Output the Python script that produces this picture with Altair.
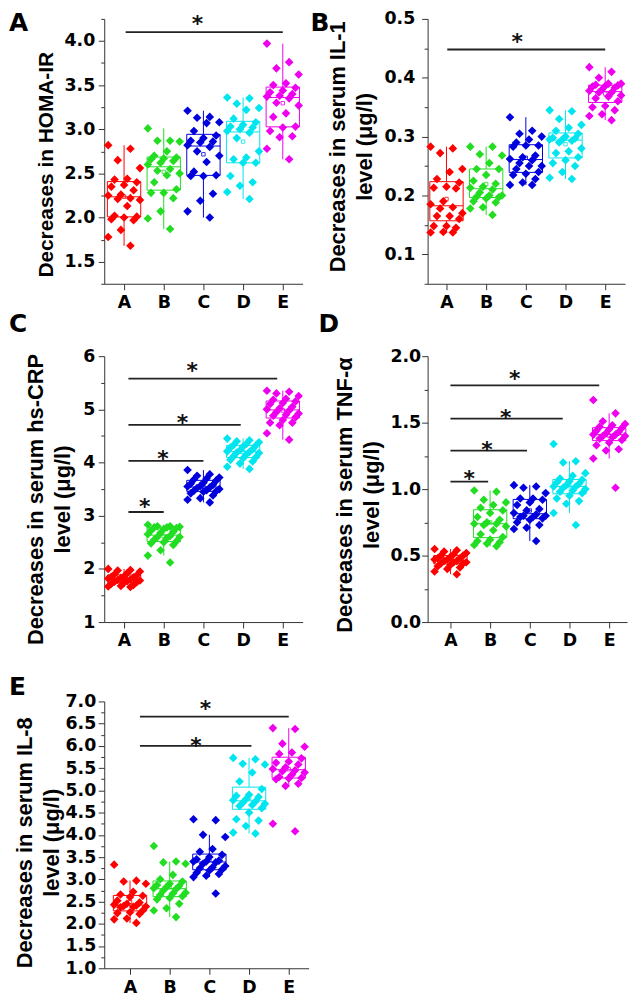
import json
import altair as alt
import pandas as pd

TFONT = "Liberation Sans"
LFONT = "DejaVu Sans"
CATS = ["A", "B", "C", "D", "E"]
COLORS = ["#ff0000", "#22dd22", "#0000dd", "#00e5ee", "#ee00ee"]
AXC = "#333333"

# ---- Panel A: HOMA-IR ----
HOMA_A = [2.82, 2.78, 2.65, 2.56, 2.44, 2.43, 2.40, 2.37, 2.35, 2.31, 2.26, 2.25, 2.22, 2.21, 2.20, 2.13, 2.02, 2.01, 2.00, 1.98, 1.97, 1.86, 1.78, 1.68]
HOMA_B = [3.01, 2.87, 2.87, 2.86, 2.75, 2.70, 2.68, 2.67, 2.66, 2.64, 2.62, 2.60, 2.55, 2.53, 2.50, 2.48, 2.40, 2.32, 2.28, 2.28, 2.22, 2.07, 1.99, 1.87]
HOMA_C = [3.21, 3.14, 3.13, 3.08, 3.07, 2.98, 2.93, 2.90, 2.87, 2.86, 2.85, 2.82, 2.80, 2.75, 2.70, 2.63, 2.52, 2.48, 2.47, 2.47, 2.27, 2.19, 2.07, 2.00]
HOMA_D = [3.36, 3.35, 3.29, 3.24, 3.22, 3.12, 3.08, 3.05, 3.03, 3.02, 3.00, 2.98, 2.96, 2.90, 2.75, 2.68, 2.66, 2.62, 2.62, 2.47, 2.40, 2.36, 2.29, 2.21]
HOMA_E = [3.97, 3.76, 3.69, 3.62, 3.52, 3.50, 3.47, 3.44, 3.42, 3.40, 3.38, 3.37, 3.35, 3.30, 3.27, 3.18, 3.14, 3.03, 3.02, 2.98, 2.92, 2.91, 2.78, 2.66]

# ---- Panel B: IL-1 ----
IL1_A = [0.283, 0.280, 0.272, 0.245, 0.240, 0.228, 0.222, 0.215, 0.213, 0.212, 0.190, 0.185, 0.180, 0.178, 0.170, 0.165, 0.165, 0.160, 0.148, 0.148, 0.145, 0.138, 0.137, 0.137]
IL1_B = [0.283, 0.283, 0.270, 0.268, 0.255, 0.245, 0.245, 0.235, 0.225, 0.220, 0.215, 0.213, 0.210, 0.205, 0.200, 0.200, 0.198, 0.197, 0.195, 0.190, 0.188, 0.180, 0.178, 0.167]
IL1_C = [0.333, 0.310, 0.305, 0.300, 0.295, 0.290, 0.285, 0.285, 0.283, 0.268, 0.265, 0.262, 0.260, 0.255, 0.250, 0.250, 0.245, 0.240, 0.237, 0.235, 0.228, 0.222, 0.218, 0.218]
IL1_D = [0.345, 0.343, 0.330, 0.320, 0.315, 0.310, 0.305, 0.300, 0.298, 0.297, 0.295, 0.295, 0.293, 0.290, 0.280, 0.275, 0.272, 0.265, 0.260, 0.255, 0.250, 0.240, 0.230, 0.228]
IL1_E = [0.418, 0.410, 0.400, 0.390, 0.390, 0.388, 0.387, 0.386, 0.385, 0.383, 0.380, 0.378, 0.375, 0.375, 0.370, 0.368, 0.365, 0.360, 0.352, 0.350, 0.345, 0.338, 0.335, 0.328]

# ---- Panel C: hs-CRP ----
CRP_A = [2.00, 1.98, 1.97, 1.95, 1.92, 1.90, 1.88, 1.86, 1.85, 1.84, 1.83, 1.82, 1.80, 1.79, 1.78, 1.77, 1.76, 1.75, 1.74, 1.72, 1.70, 1.68, 1.67, 1.66]
CRP_B = [2.83, 2.80, 2.80, 2.79, 2.78, 2.78, 2.77, 2.75, 2.72, 2.70, 2.68, 2.65, 2.62, 2.60, 2.60, 2.58, 2.55, 2.52, 2.50, 2.48, 2.45, 2.35, 2.25, 2.12]
CRP_C = [3.86, 3.78, 3.75, 3.72, 3.70, 3.68, 3.66, 3.62, 3.60, 3.58, 3.56, 3.55, 3.53, 3.52, 3.50, 3.48, 3.47, 3.46, 3.45, 3.42, 3.38, 3.33, 3.30, 3.25]
CRP_D = [4.45, 4.42, 4.40, 4.38, 4.35, 4.33, 4.32, 4.30, 4.28, 4.25, 4.23, 4.21, 4.20, 4.19, 4.18, 4.15, 4.12, 4.10, 4.08, 4.05, 4.02, 3.98, 3.92, 3.88]
CRP_E = [5.35, 5.33, 5.30, 5.25, 5.20, 5.18, 5.15, 5.12, 5.10, 5.05, 5.02, 5.00, 4.98, 4.95, 4.92, 4.90, 4.88, 4.85, 4.80, 4.75, 4.75, 4.70, 4.55, 4.43]

# ---- Panel D: TNF-alpha ----
TNF_A = [0.55, 0.54, 0.53, 0.52, 0.51, 0.50, 0.50, 0.49, 0.48, 0.48, 0.47, 0.47, 0.46, 0.46, 0.45, 0.45, 0.44, 0.44, 0.43, 0.42, 0.41, 0.40, 0.38, 0.36]
TNF_B = [0.99, 0.98, 0.92, 0.90, 0.88, 0.86, 0.84, 0.82, 0.79, 0.77, 0.75, 0.74, 0.74, 0.73, 0.72, 0.69, 0.66, 0.64, 0.62, 0.61, 0.60, 0.59, 0.58, 0.57]
TNF_C = [1.03, 1.02, 1.01, 0.97, 0.93, 0.93, 0.92, 0.90, 0.88, 0.85, 0.84, 0.82, 0.81, 0.80, 0.80, 0.79, 0.79, 0.78, 0.77, 0.75, 0.73, 0.71, 0.70, 0.61]
TNF_D = [1.34, 1.21, 1.20, 1.12, 1.10, 1.08, 1.07, 1.06, 1.05, 1.04, 1.03, 1.02, 1.02, 1.01, 1.00, 0.99, 0.98, 0.97, 0.95, 0.93, 0.91, 0.89, 0.82, 0.73]
TNF_E = [1.67, 1.57, 1.51, 1.49, 1.48, 1.47, 1.46, 1.45, 1.44, 1.43, 1.42, 1.41, 1.41, 1.40, 1.40, 1.39, 1.38, 1.37, 1.35, 1.33, 1.30, 1.29, 1.23, 1.01]

# ---- Panel E: IL-8 ----
IL8_A = [3.33, 2.97, 2.95, 2.90, 2.72, 2.66, 2.63, 2.60, 2.52, 2.48, 2.45, 2.43, 2.41, 2.40, 2.39, 2.38, 2.37, 2.30, 2.26, 2.24, 2.22, 2.12, 2.10, 2.02]
IL8_B = [3.75, 3.40, 3.38, 3.35, 3.10, 3.00, 2.95, 2.90, 2.87, 2.85, 2.83, 2.80, 2.78, 2.75, 2.70, 2.68, 2.65, 2.62, 2.58, 2.55, 2.45, 2.35, 2.30, 2.15]
IL8_C = [4.35, 4.33, 4.00, 3.95, 3.68, 3.62, 3.55, 3.50, 3.45, 3.42, 3.40, 3.40, 3.38, 3.35, 3.30, 3.27, 3.25, 3.22, 3.20, 3.15, 3.12, 3.08, 3.05, 2.68]
IL8_D = [5.73, 5.70, 5.60, 5.58, 5.40, 5.20, 5.03, 4.90, 4.88, 4.85, 4.80, 4.78, 4.75, 4.72, 4.70, 4.67, 4.65, 4.60, 4.50, 4.35, 4.32, 4.20, 4.05, 4.03]
IL8_E = [6.40, 6.38, 6.05, 5.98, 5.85, 5.82, 5.72, 5.65, 5.62, 5.58, 5.52, 5.48, 5.45, 5.43, 5.40, 5.35, 5.30, 5.28, 5.27, 5.25, 5.15, 5.10, 4.25, 4.08]

# ---- significance annotations (category units / data units) ----
SIG_A_X1, SIG_A_X2, SIG_A_Y = [0.04], [4.0], [4.10]
STAR_A_X, STAR_A_Y = [1.85], [4.25]
SIG_B_X1, SIG_B_X2, SIG_B_Y = [0.02], [4.0], [0.448]
STAR_B_X, STAR_B_Y = [1.78], [0.470]
SIG_C_X1, SIG_C_X2, SIG_C_Y = [0.11, 0.11, 0.11, 0.11], [1.0, 2.0, 2.94, 3.86], [3.07, 4.03, 4.71, 5.58]
STAR_C_X, STAR_C_Y = [0.52, 0.98, 1.47, 1.72], [3.27, 4.17, 4.85, 5.83]
SIG_D_X1, SIG_D_X2, SIG_D_Y = [0.0, 0.0, 0.0, 0.0], [0.95, 1.93, 2.83, 3.75], [1.056, 1.29, 1.53, 1.78]
STAR_D_X, STAR_D_Y = [0.475, 0.92, 1.39, 1.62], [1.12, 1.337, 1.573, 1.87]
SIG_E_X1, SIG_E_X2, SIG_E_Y = [0.25, 0.25], [3.06, 4.0], [6.0, 6.66]
STAR_E_X, STAR_E_Y = [1.66, 1.9], [6.11, 6.94]


def frange(a, b, s):
    out, v = [], a
    while v <= b + 1e-9:
        out.append(round(v, 4))
        v += s
    return out


def panel(groups, ydom, majors, minors, fmt, title, tsize, sig, star, letters, anchors,
          width, xdom, lpad, tpad, tshift, height):
    rows = []
    for gi, (cat, vals) in enumerate(zip(CATS, groups)):
        for k, v in enumerate(vals):
            rows.append({"grp": cat, "gi": gi, "k": k, "v": v})
    df = pd.DataFrame(rows)

    xs = alt.Scale(domain=xdom, nice=False, zero=False)
    ys = alt.Scale(domain=ydom, nice=False, zero=False)
    color = alt.Color("grp:N", scale=alt.Scale(domain=CATS, range=COLORS), legend=None)
    test = "indexof(%s, datum.value) >= 0" % json.dumps(majors)
    xaxis = alt.Axis(values=[0, 1, 2, 3, 4], labelExpr="['A','B','C','D','E'][datum.value]",
                     title=None, grid=False, tickSize=6, labelPadding=4, labelFontSize=17.5,
                     labelFont=LFONT, labelFontWeight="bold", labelColor="black", labelAngle=0,
                     domainColor=AXC, tickColor=AXC, labelFlush=False, labelOverlap=False)
    yaxis = alt.Axis(values=sorted(majors + minors),
                     labelExpr="%s ? format(datum.value, '%s') : ''" % (test, fmt),
                     tickSize={"condition": {"test": test, "value": 6}, "value": 3.5},
                     labelPadding=lpad, labelFontSize=17.5, labelFont=LFONT, labelFontWeight="bold",
                     labelColor="black", labelOverlap=False, labelFlush=False, grid=False,
                     domainColor=AXC, tickColor=AXC,
                     title=title, titleFont=TFONT, titleFontSize=tsize, titleFontWeight="bold",
                     titleColor="black", titlePadding=tpad, titleLineHeight=27,
                     titleAngle=270, titleAlign="center", titleBaseline="bottom",
                     titleY=height / 2 + tshift, titleLimit=600)
    X = lambda f: alt.X(f, scale=xs, axis=xaxis)
    Y = lambda f: alt.Y(f, scale=ys, axis=yaxis)

    base = alt.Chart(df)
    stats = base.transform_aggregate(
        q1="q1(v)", q3="q3(v)", med="median(v)", avg="mean(v)", groupby=["grp", "gi"]
    ).transform_calculate(xl="datum.gi - 0.42", xr="datum.gi + 0.42")
    box = stats.mark_rect(filled=False, strokeWidth=1).encode(
        x=X("xl:Q"), x2="xr:Q", y=Y("q1:Q"), y2="q3:Q", color=color)
    med = stats.mark_rule(strokeWidth=1).encode(x=X("xl:Q"), x2="xr:Q", y=Y("med:Q"), color=color)
    avg = stats.mark_point(shape="square", filled=False, size=12, strokeWidth=0.8, opacity=1).encode(
        x=X("gi:Q"), y=Y("avg:Q"), color=color)
    wh = base.transform_joinaggregate(
        j1="q1(v)", j3="q3(v)", groupby=["grp"]
    ).transform_filter(
        "datum.v >= datum.j1 - 1.5*(datum.j3-datum.j1) && datum.v <= datum.j3 + 1.5*(datum.j3-datum.j1)"
    ).transform_aggregate(lo="min(v)", hi="max(v)", b1="min(j1)", b3="min(j3)", groupby=["grp", "gi"])
    up = wh.mark_rule(strokeWidth=1).encode(x=X("gi:Q"), y=Y("b3:Q"), y2="hi:Q", color=color)
    dn = wh.mark_rule(strokeWidth=1).encode(x=X("gi:Q"), y=Y("lo:Q"), y2="b1:Q", color=color)
    pts = base.transform_calculate(
        jx="datum.gi + (((datum.k * 7) % 11) / 10 - 0.5) * 0.8"
    ).mark_point(shape="diamond", filled=True, size=75, opacity=1).encode(
        x=X("jx:Q"), y=Y("v:Q"), color=color)

    sdf = pd.DataFrame({"x1": sig[0], "x2": sig[1], "y": sig[2]})
    sigl = alt.Chart(sdf).mark_rule(color="#222222", strokeWidth=1.8).encode(
        x=X("x1:Q"), x2="x2:Q", y=Y("y:Q"))
    tdf = pd.DataFrame({"x": star[0], "y": star[1]})
    stars = alt.Chart(tdf).mark_text(text="*", font=LFONT, fontSize=22, fontWeight="bold",
                                     color="#111111", align="center", baseline="middle", dy=5.5).encode(
        x=X("x:Q"), y=Y("y:Q"))
    layers = [box, up, dn, med, pts, avg, sigl, stars]
    for (t, lx, ly) in letters:
        layers.append(alt.Chart(pd.DataFrame({"t": [t]})).mark_text(
            font=LFONT, fontSize=25, fontWeight="bold", color="black", align="left",
            baseline="alphabetic").encode(text="t:N", x=alt.value(lx), y=alt.value(ly)))
    for (axx, ayy) in anchors:
        layers.append(alt.Chart(pd.DataFrame({"a": [0]})).mark_point(
            opacity=0, size=1, strokeWidth=0).encode(x=alt.value(axx), y=alt.value(ayy)))

    return alt.layer(*layers).properties(width=width, height=height)


pA = panel([HOMA_A, HOMA_B, HOMA_C, HOMA_D, HOMA_E], [1.25, 4.25],
           frange(1.5, 4.0, 0.5), frange(1.25, 4.25, 0.5), ".1f", "Decreases in HOMA-IR", 21,
           (SIG_A_X1, SIG_A_X2, SIG_A_Y), (STAR_A_X, STAR_A_Y),
           [("A", -96, 12), ("C", -96, 316)], [(-96, -12), (-96, 324)],
           200, [-0.5, 4.5], 3.5, 8, 13, 267)
pB = panel([IL1_A, IL1_B, IL1_C, IL1_D, IL1_E], [0.05, 0.5],
           frange(0.1, 0.5, 0.1), frange(0.05, 0.45, 0.1), ".1f",
           ["Decreases in serum IL-1", "level (μg/l)"], 22,
           (SIG_B_X1, SIG_B_X2, SIG_B_Y), (STAR_B_X, STAR_B_Y),
           [("B", -118, 12), ("D", -110, 316)], [(-118, -13)],
           199, [-0.475, 4.5], 7, 7.6, -5, 267)
pC = panel([CRP_A, CRP_B, CRP_C, CRP_D, CRP_E], [1, 6],
           frange(1, 6, 1), frange(1.5, 5.5, 1), "d",
           ["Decreases in serum hs-CRP", "level (μg/l)"], 22,
           (SIG_C_X1, SIG_C_X2, SIG_C_Y), (STAR_C_X, STAR_C_Y),
           [], [(-96, -13), (-96, 303)],
           200, [-0.5, 4.5], 3.5, 8.7, 10, 268)
pD = panel([TNF_A, TNF_B, TNF_C, TNF_D, TNF_E], [0, 2],
           frange(0, 2, 0.5), frange(0.25, 1.75, 0.5), ".1f",
           ["Decreases in serum TNF-α", "level (μg/l)"], 22,
           (SIG_D_X1, SIG_D_X2, SIG_D_Y), (STAR_D_X, STAR_D_Y),
           [], [(-100, -14)],
           201, [-0.575, 4.45], 1, 6.4, 5.5, 268)
pE = panel([IL8_A, IL8_B, IL8_C, IL8_D, IL8_E], [1, 7],
           frange(1.0, 7.0, 0.5), frange(1.25, 6.75, 0.5), ".1f",
           ["Decreases in serum IL-8", "level (μg/l)"], 22,
           (SIG_E_X1, SIG_E_X2, SIG_E_Y), (STAR_E_X, STAR_E_Y),
           [("E", -96, -6)], [(-96, -43)],
           206, [-0.65, 4.5], 2.5, 2, 7.5, 269)

chart = alt.concat(pA, pB, pC, pD, pE, columns=2, spacing=0, align="each", bounds="full").properties(
    padding={"left": 0, "top": -7, "right": 0, "bottom": 0}
).configure_view(strokeWidth=0)

chart.save("out.html", embed_options={"renderer": "svg", "actions": False})
